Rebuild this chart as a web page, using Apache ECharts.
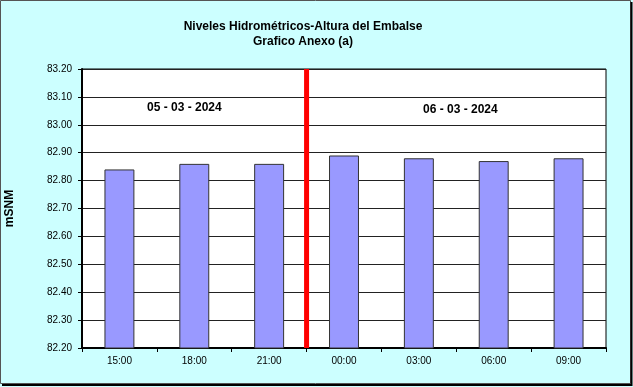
<!DOCTYPE html>
<html><head><meta charset="utf-8">
<script src="https://cdn.jsdelivr.net/npm/echarts@6/dist/echarts.min.js"></script>
<style>html,body{margin:0;padding:0;background:#CCFFFF;}#c{width:633px;height:387px;}</style>
</head><body><div id="c"></div>
<script>
var categories = ['15:00','18:00','21:00','00:00','03:00','06:00','09:00'];
var levels = [82.84, 82.86, 82.86, 82.89, 82.88, 82.87, 82.88];
var yTicks = [82.20, 82.30, 82.40, 82.50, 82.60, 82.70, 82.80, 82.90, 83.00, 83.10, 83.20];
var dayLabels = ['05 - 03 - 2024', '06 - 03 - 2024'];
var dayChangeIndex = 3;

var chart = echarts.init(document.getElementById('c'), null, {renderer:'canvas'});
var font = 'Liberation Sans, Arial, sans-serif';
var option = {
  animation: false,
  backgroundColor: '#CCFFFF',
  title: {
    text: 'Niveles Hidrométricos-Altura del Embalse\nGrafico Anexo (a)',
    left: 298, top: 14, textAlign: 'center',
    textStyle: {fontFamily: font, fontSize: 12, fontWeight: 'bold', color: '#000', lineHeight: 15}
  },
  grid: {left: 82, right: 27, top: 69, bottom: 39, outerBoundsMode: 'none', containLabel: false,
    show: true, backgroundColor: '#FFFFFF', borderColor: '#000', borderWidth: 1},
  xAxis: [{
    type: 'category', data: categories, boundaryGap: true,
    axisLine: {lineStyle: {color: '#000', width: 2}},
    axisTick: {show: true, inside: false, length: 4, lineStyle: {color: '#000'}},
    axisLabel: {fontFamily: font, fontSize: 10, color: '#000', margin: 8},
    splitLine: {show: false}
  }, {
    type: 'value', min: 0, max: categories.length, show: false
  }],
  yAxis: {
    type: 'value', min: yTicks[0], max: yTicks[yTicks.length-1], interval: 0.1,
    name: 'mSNM', nameLocation: 'middle', nameGap: 66, nameRotate: 90,
    nameTextStyle: {fontFamily: font, fontSize: 12, fontWeight: 'bold', color: '#000'},
    axisLine: {show: true, lineStyle: {color: '#000', width: 2}},
    axisTick: {show: true, length: 4, lineStyle: {color: '#000'}},
    axisLabel: {fontFamily: font, fontSize: 10, color: '#000', margin: 10,
      formatter: function(v){ return v.toFixed(2); }},
    splitLine: {show: true, lineStyle: {color: '#222', width: 1}}
  },
  series: [{
    type: 'bar', data: levels, barWidth: '40%',
    itemStyle: {color: '#9999FF', borderColor: '#333', borderWidth: 1}
  }, {
    type: 'line', xAxisIndex: 1,
    data: [[dayChangeIndex, yTicks[0]], [dayChangeIndex, yTicks[yTicks.length-1]]],
    symbol: 'none', lineStyle: {color: '#FF0000', width: 5}, z: 5
  }],
  graphic: [
    {type: 'rect', shape: {x: 0.5, y: 0.5, width: 630, height: 383}, style: {fill: 'none', stroke: '#555', lineWidth: 1}},
    {type: 'line', shape: {x1: 2, y1: 385, x2: 632, y2: 385}, style: {stroke: '#000', lineWidth: 2}},
    {type: 'line', shape: {x1: 631.5, y1: 2, x2: 631.5, y2: 386}, style: {stroke: '#000', lineWidth: 2}},
    {type: 'text', left: 147, top: 102, style: {text: dayLabels[0], font: 'bold 12px ' + font, fill: '#000'}},
    {type: 'text', left: 423, top: 104, style: {text: dayLabels[1], font: 'bold 12px ' + font, fill: '#000'}}
  ]
};
chart.setOption(option);
</script></body></html>
